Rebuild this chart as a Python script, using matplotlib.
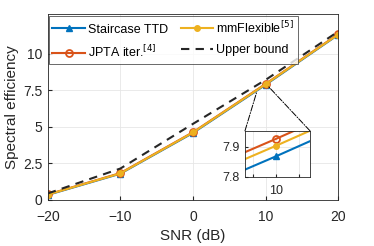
import matplotlib
matplotlib.use("Agg")
import matplotlib.pyplot as plt
from matplotlib.patches import ConnectionPatch

plt.rcParams['font.family'] = ['Liberation Sans', 'DejaVu Sans']

snr = [-20, -10, 0, 10, 20]
staircase = [0.35, 1.80, 4.58, 7.867, 11.28]
jpta = [0.38, 1.84, 4.63, 7.925, 11.32]
mmflex = [0.37, 1.82, 4.61, 7.902, 11.30]
upper = [0.45, 2.15, 5.20, 8.20, 11.50]

yticks = [0, 2.5, 5, 7.5, 10]
ytick_labels = ['0', '2.5', '5', '7.5', '10']
xticks = [-20, -10, 0, 10, 20]
inset_xticks = [9.9, 10, 10.1]
inset_xlabels = ['', '10', '']
inset_yticks = [7.8, 7.9]

blue = '#0072BD'
orange = '#D95319'
yellow = '#EDB120'
axcol = '#262626'

fig = plt.figure(figsize=(3.74, 2.46), dpi=100)
ax = fig.add_axes([0.128, 0.187, 0.776, 0.756])

def draw(a):
    a.plot(snr, staircase, color=blue, lw=1.5, marker='^', ms=5,
           mfc=blue, mec=blue, label='Staircase TTD')
    a.plot(snr, jpta, color=orange, lw=1.5, marker='o', ms=5,
           mfc='none', mec=orange, mew=1.3, label='JPTA iter.$^{[4]}$')
    a.plot(snr, mmflex, color=yellow, lw=1.5, marker='.', ms=8,
           mfc=yellow, mec=yellow, label='mmFlexible$^{[5]}$')
    a.plot(snr, upper, color=axcol, lw=1.5, ls=(0, (4, 3)), label='Upper bound')

draw(ax)
ax.set_xlim(-20, 20)
ax.set_ylim(0, 12.7)
ax.set_xticks(xticks)
ax.set_yticks(yticks)
ax.set_yticklabels(ytick_labels)
ax.tick_params(direction='in', labelsize=10, colors=axcol, length=3)
ax.tick_params(axis='x', pad=7)
ax.tick_params(axis='y', pad=4)
ax.grid(True, color='#e6e6e6', lw=0.6)
ax.set_axisbelow(True)
for s in ax.spines.values():
    s.set_color(axcol)
    s.set_linewidth(0.6)
ax.set_xlabel('SNR (dB)', fontsize=11, color=axcol, labelpad=4)
ax.set_ylabel('Spectral efficiency', fontsize=11, color=axcol, labelpad=3)

leg = ax.legend(ncol=2, loc='upper left', bbox_to_anchor=(0.003, 0.99),
                fontsize=9, frameon=True, fancybox=False, edgecolor=axcol,
                handlelength=2.6, handletextpad=0.25, columnspacing=1.0,
                borderpad=0.3, labelspacing=0.7, borderaxespad=0.0)
leg.get_frame().set_linewidth(0.6)

ins = fig.add_axes([0.655, 0.282, 0.174, 0.186])
draw(ins)
ins.set_xlim(9.867, 10.149)
ins.set_ylim(7.8, 7.952)
ins.set_xticks(inset_xticks)
ins.set_xticklabels(inset_xlabels)
ins.set_yticks(inset_yticks)
ins.tick_params(direction='in', labelsize=9, colors=axcol, length=2)
ins.tick_params(axis='x', pad=6)
ins.tick_params(axis='y', pad=4)
ins.grid(True, color='#e6e6e6', lw=0.6)
for s in ins.spines.values():
    s.set_color(axcol)
    s.set_linewidth(0.6)

for (xa, ya), (xb, yb) in [((0, 1), (8.8, 7.4)), ((1, 1), (10.4, 7.75))]:
    con = ConnectionPatch(xyA=(xa, ya), coordsA=ins.transAxes,
                          xyB=(xb, yb), coordsB=ax.transData,
                          color='k', lw=0.7, ls='-.')
    fig.add_artist(con)

fig.savefig('out.png', dpi=100)
